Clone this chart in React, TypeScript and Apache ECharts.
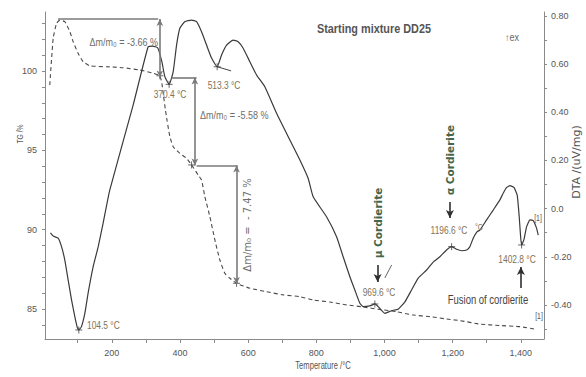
import React, { useEffect, useRef } from "react";
import * as echarts from "echarts";

// ---- DTA curve (solid, right axis) ----
const dtaTemp = [20, 28, 42.5, 52.5, 62, 72, 82, 91.5, 98, 103.3, 111, 121, 130.6, 145, 160, 174.6, 194, 262.6, 306.6, 320, 335, 347, 355.6, 368.2, 380, 390, 399.6, 414, 434, 448.7, 463, 478, 492.7, 509, 522, 536.7, 556, 570.7, 585.4, 605, 624.7, 649, 683.4, 722.4, 751.8, 776, 790.8, 830, 859.4, 878.8, 898.5, 913, 927.8, 937.5, 957, 971.8, 981.5, 1001, 1020.8, 1040, 1060, 1079.5, 1099, 1123.5, 1143, 1162.6, 1182, 1197, 1211.6, 1226, 1241, 1250.6, 1260.3, 1272, 1280, 1299.6, 1319, 1338.6, 1348.3, 1358.3, 1368, 1379.8, 1389.4, 1395.3, 1399.4, 1402.3, 1409, 1417, 1426.7, 1436.4, 1446.3, 1451];
const dtaValue = [-0.101, -0.114, -0.123, -0.158, -0.213, -0.297, -0.38, -0.449, -0.49, -0.504, -0.49, -0.434, -0.35, -0.243, -0.159, -0.06, 0.077, 0.43, 0.672, 0.675, 0.667, 0.609, 0.548, 0.516, 0.568, 0.679, 0.749, 0.776, 0.783, 0.776, 0.735, 0.679, 0.625, 0.589, 0.638, 0.679, 0.7, 0.693, 0.666, 0.61, 0.555, 0.506, 0.396, 0.285, 0.202, 0.126, 0.049, -0.034, -0.117, -0.2, -0.283, -0.338, -0.393, -0.407, -0.404, -0.396, -0.407, -0.435, -0.424, -0.418, -0.387, -0.338, -0.289, -0.255, -0.222, -0.2, -0.172, -0.158, -0.169, -0.175, -0.172, -0.158, -0.123, -0.096, -0.089, -0.047, -0.006, 0.036, 0.064, 0.088, 0.095, 0.088, 0.056, -0.034, -0.117, -0.151, -0.13, -0.075, -0.047, -0.05, -0.082, -0.11];

// ---- TG curve (dashed, left axis) ----
const tgTemp = [18, 28, 38, 47.5, 62, 77, 86.6, 101, 116, 135.6, 184.6, 233.3, 282.3, 321.3, 341, 347, 352, 357, 362, 370, 380, 399.6, 419.3, 434, 453.3, 463.3, 473, 487.7, 502.4, 517, 531.7, 546.4, 566, 605, 654, 702.8, 751.8, 790.8, 839.8, 888.8, 937.5, 986.5, 1035.5, 1084.2, 1133.2, 1182.2, 1221.2, 1280, 1338.6, 1397.3, 1446.3];
const tgValue = [99.12, 102.06, 103.01, 103.21, 103.11, 102.48, 101.85, 101.12, 100.59, 100.33, 100.27, 100.21, 100.06, 99.86, 99.7, 99.2, 98.4, 97.6, 96.9, 95.9, 95.23, 94.81, 94.5, 94.08, 93.45, 93.13, 92.08, 90.82, 89.35, 88.09, 87.25, 86.94, 86.62, 86.31, 86.09, 85.89, 85.78, 85.57, 85.44, 85.26, 85.13, 84.97, 84.83, 84.62, 84.52, 84.37, 84.27, 84.05, 83.96, 83.89, 83.71];

// ---- characteristic points (cross markers) ----
const dtaPeakTemp = [103.3, 368.2, 509.1, 971.8, 1196.9, 1402.3];
const dtaPeakValue = [-0.504, 0.516, 0.589, -0.396, -0.158, -0.151];
const tgStepTemp = [341, 434, 566];
const tgStepValue = [99.7, 94.08, 86.62];

// ---- mass-loss step levels (TG %) and their temperatures ----
const stepLevels = [103.28, 99.59, 94.05, 86.58];
const stepArrowTemp = [341, 443.7, 566];
const stepShelfFrom = [42.5, 375, 448.7];
const stepShelfTo = [336, 448.7, 568.9];

// ---- axis ticks / labels ----
const xTicks = [100, 200, 300, 400, 500, 600, 700, 800, 900, 1000, 1100, 1200, 1300, 1400];
const xLabels = [200, 400, 600, 800, 1000, 1200, 1400];
const tgTicks = [84, 85, 86, 87, 88, 89, 90, 91, 92, 93, 94, 95, 96, 97, 98, 99, 100, 101, 102, 103];
const tgLabels = [85, 90, 95, 100];
const dtaTicks = [-0.5, -0.4, -0.3, -0.2, -0.1, 0, 0.1, 0.2, 0.3, 0.4, 0.5, 0.6, 0.7, 0.8];
const dtaLabels = [-0.4, -0.2, 0, 0.2, 0.4, 0.6, 0.8];

const SANS = "'Liberation Sans', Arial, sans-serif";
const DEJAVU = "'DejaVu Sans', sans-serif";
const TEMP_COLOR = "#7f7357";
const DELTA_COLOR = "#6e6e6e";

function txt(text: string, x: number, y: number, o: any = {}) {
  const align = o.align || "center";
  const sx = o.scaleX == null ? 0.8 : o.scaleX;
  return {
    type: "text",
    x,
    y,
    rotation: o.rotation || 0,
    scaleX: sx,
    scaleY: 1,
    silent: true,
    z: 100,
    style: {
      text,
      fill: o.fill || TEMP_COLOR,
      fontSize: o.fontSize || 10.5,
      fontFamily: o.fontFamily || SANS,
      fontWeight: o.fontWeight || "normal",
      align,
      textAlign: align,
      verticalAlign: "middle",
      textVerticalAlign: "middle",
    },
  };
}

export default function App() {
  const ref = useRef<HTMLDivElement>(null);
  useEffect(() => {
    if (!ref.current) return;
    const chart = echarts.init(ref.current, null, { renderer: "svg" });

    const dtaData = dtaTemp.map((t, i) => [t, dtaValue[i]]);
    const tgData = tgTemp.map((t, i) => [t, tgValue[i]]);
    const dtaMarks = dtaPeakTemp.map((t, i) => [t, dtaPeakValue[i]]);
    const tgMarks = tgStepTemp.map((t, i) => [t, tgStepValue[i]]);

    const stepLines: any[] = [];
    for (let i = 0; i < 3; i++) {
      stepLines.push([
        { coord: [stepShelfFrom[i], stepLevels[i]], symbol: "none" },
        { coord: [stepShelfTo[i], stepLevels[i]], symbol: "none" },
      ]);
      stepLines.push([
        { coord: [stepArrowTemp[i], stepLevels[i]], symbol: "arrow" },
        { coord: [stepArrowTemp[i], stepLevels[i + 1]], symbol: "arrow" },
      ]);
    }

    const axisLabelStyle = { color: "#555", fontSize: 9, fontFamily: SANS };
    const axisLineStyle = { lineStyle: { color: "#8a8a8a", width: 1 } };

    const crossSymbol = "path://M0,5L10,5M5,0L5,10";

    chart.setOption({
      animation: false,
      backgroundColor: "#fff",
      grid: { left: 45, right: 42, top: 12, bottom: 38, containLabel: false },
      xAxis: {
        type: "value",
        min: 4,
        max: 1468,
        axisLine: { show: true, onZero: false, ...axisLineStyle },
        axisTick: { show: true, customValues: xTicks, length: 4, lineStyle: { color: "#8a8a8a" } },
        axisLabel: { ...axisLabelStyle, customValues: xLabels, margin: 9 },
        splitLine: { show: false },
      },
      yAxis: [
        {
          type: "value",
          min: 83.11,
          max: 103.72,
          position: "left",
          axisLine: { show: true, onZero: false, ...axisLineStyle },
          axisTick: { show: true, customValues: tgTicks, length: 3, lineStyle: { color: "#8a8a8a" } },
          axisLabel: { ...axisLabelStyle, customValues: tgLabels, margin: 8 },
          splitLine: { show: false },
        },
        {
          type: "value",
          min: -0.5415,
          max: 0.8164,
          position: "right",
          axisLine: { show: true, onZero: false, ...axisLineStyle },
          axisTick: { show: true, customValues: dtaTicks, length: 3, lineStyle: { color: "#8a8a8a" } },
          axisLabel: {
            ...axisLabelStyle,
            customValues: dtaLabels,
            margin: 7,
            formatter: (v: number) => (Math.abs(v) < 1e-9 ? "0.0" : v.toFixed(2)),
          },
          splitLine: { show: false },
        },
      ],
      series: [
        {
          name: "TG",
          type: "line",
          yAxisIndex: 0,
          data: tgData,
          showSymbol: false,
          smooth: 0.15,
          lineStyle: { color: "#4a4a4a", width: 1.1, type: [4, 3] },
          markLine: {
            silent: true,
            symbolSize: [5, 7],
            label: { show: false },
            lineStyle: { color: "#7a7a7a", width: 1.6, type: "solid" },
            data: stepLines,
          },
        },
        {
          name: "DTA",
          type: "line",
          yAxisIndex: 1,
          data: dtaData,
          showSymbol: false,
          smooth: 0.15,
          lineStyle: { color: "#3a3a3a", width: 1.2 },
          markLine: {
            silent: true,
            symbol: ["none", "arrow"],
            symbolSize: [6, 8],
            label: { show: false },
            lineStyle: { color: "#2f2f2f", width: 1.6, type: "solid" },
            data: [
              [{ coord: [979.8, -0.234] }, { coord: [979.8, -0.305] }],
              [{ coord: [1191.9, 0.027] }, { coord: [1191.9, -0.039] }],
              [{ coord: [1400.2, -0.33] }, { coord: [1400.2, -0.243] }],
              [
                { coord: [1001, -0.288], symbol: "none", lineStyle: { width: 1, color: "#666" } },
                { coord: [1021, -0.234], symbol: "none" },
              ],
              [
                { coord: [509.1, 0.589], symbol: "none", lineStyle: { width: 1, color: "#444" } },
                { coord: [550, 0.572], symbol: "none" },
              ],
            ],
          },
        },
        {
          name: "DTA peaks",
          type: "scatter",
          yAxisIndex: 1,
          data: dtaMarks,
          symbol: crossSymbol,
          symbolSize: 7,
          itemStyle: { color: "none", borderColor: "#444", borderWidth: 1 },
          silent: true,
        },
        {
          name: "TG steps",
          type: "scatter",
          yAxisIndex: 0,
          data: tgMarks,
          symbol: crossSymbol,
          symbolSize: 7,
          itemStyle: { color: "none", borderColor: "#444", borderWidth: 1 },
          silent: true,
        },
      ],
      graphic: [
        txt("Starting mixture DD25", 374, 28, { fontSize: 12.5, scaleX: 0.87, fontWeight: "bold", fill: "#555" }),
        txt("↑ex", 505, 37, { align: "left", fill: "#666", fontSize: 10, scaleX: 0.9 }),
        txt("TG /%", 20, 134, { rotation: Math.PI / 2, fill: "#555", fontSize: 8.5 }),
        txt("DTA /(uV/mg)", 576, 162, { rotation: Math.PI / 2, fill: "#555", fontSize: 11, fontFamily: DEJAVU, scaleX: 1 }),
        txt("Temperature /°C", 323, 366, { fill: "#555", fontSize: 10, scaleX: 0.76 }),
        txt("Δm/m₀ = -3.66 %", 158, 42, { align: "right", fill: DELTA_COLOR, fontSize: 11, scaleX: 0.82 }),
        txt("370.4 °C", 170, 94),
        txt("513.3 °C", 224, 85),
        txt("Δm/m₀ = -5.58 %", 200, 115, { align: "left", fill: DELTA_COLOR, fontSize: 11, scaleX: 0.82 }),
        txt("Δm/m₀ =  - 7.47 %", 247, 225, { rotation: Math.PI / 2, fill: DELTA_COLOR, fontFamily: DEJAVU, fontSize: 10, scaleX: 1 }),
        txt("104.5 °C", 87, 325, { align: "left" }),
        txt("μ Cordierite", 378, 223, { rotation: Math.PI / 2, fill: "#44654c", fontWeight: "bold", fontFamily: DEJAVU, fontSize: 10.5, scaleX: 1 }),
        txt("969.6 °C", 379, 292),
        txt("α Cordierite", 450, 160, { rotation: Math.PI / 2, fill: "#44654c", fontWeight: "bold", fontFamily: DEJAVU, fontSize: 10.5, scaleX: 1 }),
        txt("1196.6 °C", 449, 230),
        txt("°C", 479, 227, { fontSize: 9 }),
        txt("1402.8 °C", 517, 259),
        txt("Fusion of cordierite", 488, 300, { fill: "#444", fontSize: 12, scaleX: 0.79 }),
        txt("[1]", 538, 218, { fill: "#555", fontSize: 8.5 }),
        txt("[1]", 539, 316, { fill: "#555", fontSize: 8.5 }),
      ],
    });

    return () => chart.dispose();
  }, []);

  return (
    <div
      ref={ref}
      style={{ position: "absolute", left: 0, top: 0, width: 586, height: 377, background: "#fff" }}
    />
  );
}
